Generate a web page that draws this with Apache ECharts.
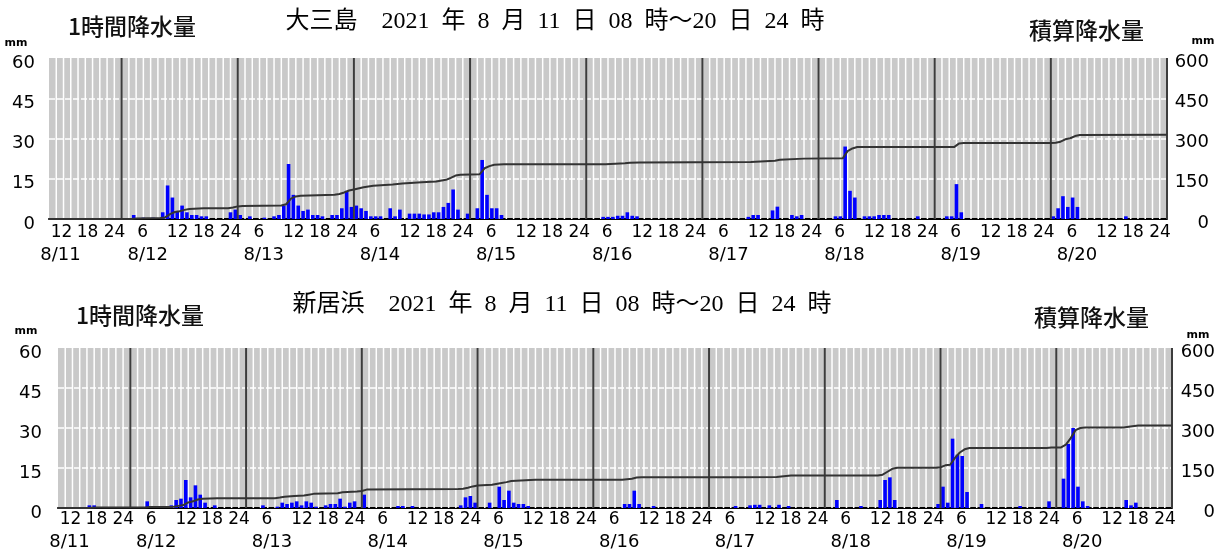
<!DOCTYPE html>
<html><head><meta charset="utf-8">
<script src="https://cdn.jsdelivr.net/npm/echarts@6/dist/echarts.min.js"></script>
<style>html,body{margin:0;padding:0;background:#fff}#c{width:1225px;height:554px}</style>
</head><body><div id="c"></div>
<script>
// ---------- text ----------
const stationNames = ['大三島', '新居浜'];
const periodText = '2021\u2002年\u20028\u2002月\u200211\u2002日\u200208\u2002時～20\u2002日\u200224\u2002時';
const hourlyTitle = '1時間降水量';
const cumulativeTitle = '積算降水量';
const unitText = 'mm';

// ---------- axes (hours counted from 8/11 00:00) ----------
const xStartHour = 9;
const xEndHour = 240;
const hourTicks = [12,18,24,30,36,42,48,54,60,66,72,78,84,90,96,102,108,114,120,126,132,138,144,150,156,162,168,174,180,186,192,198,204,210,216,222,228,234,240];
const dateTicks = [12,30,54,78,102,126,150,174,198,222];
const dateLabels = ['8/11','8/12','8/13','8/14','8/15','8/16','8/17','8/18','8/19','8/20'];
const dayBoundaries = [24,48,72,96,120,144,168,192,216,240];
const hourlyAxisMax = 60, hourlyAxisStep = 15;
const cumulativeAxisMax = 600, cumulativeAxisStep = 150;

// ---------- 大三島 : [hour ending, mm] ----------
const oomishimaHourly = [
 [27,1.5],[29,0.5],[31,0.5],[33,2.5],[34,12.5],[35,8],[36,3],[37,5],[38,2.5],[39,1.5],[40,1.5],[41,1],[42,1],
 [47,2.5],[48,3.5],[49,1.5],[51,1],[54,0.5],[56,1],[57,1.5],[58,5],[59,20.5],[60,9],[61,5],[62,3],[63,3.5],[64,1.5],
 [65,1.5],[66,1],[68,1.5],[69,1.5],[70,4],[71,10.5],[72,4.5],[73,5],[74,4],[75,3],[76,1],[77,1],[78,1],[80,4],[81,1],
 [82,3.5],[84,2],[85,2],[86,2],[87,1.7],[88,1.7],[89,2.5],[90,2.5],[91,4.5],[92,6],[93,11],[94,3.5],[96,2],
 [98,4],[99,22],[100,9],[101,4],[102,4],[103,1.5],
 [124,0.8],[125,0.8],[126,0.8],[127,1.2],[128,1.2],[129,2.5],[130,1.2],[131,1],
 [154,0.8],[155,1.5],[156,1.5],[159,3.2],[160,4.6],[163,1.5],[164,1],[165,1.5],
 [172,1],[173,1],[174,27],[175,10.5],[176,8],[178,1],[179,1],[180,1],[181,1.5],[182,1.5],[183,1.5],[189,1],
 [195,1],[196,1],[197,13],[198,2.5],
 [217,1],[218,4],[219,8.5],[220,4.5],[221,8],[222,4.5],[232,1]
];
const oomishimaCumulative = [
 [9,0],[26,0],[27,2],[32,4],[33,6],[34,18],[35,26],[36,29],[37,34],[38,37],[41,40],[46,40],[47,43],[48,47],[49,48.5],
 [57,50],[58,55],[59,76],[60,84],[61,87],[68,90],[69,93],[70,99],[71,106],[72,110],[74,118],[76,124],[80,129],[82,132],
 [86,137],[89,140],[91,146],[92,153],[93,162],[94,165],[98,167],[99,189],[100,197],[101,202],[103,204],[124,204],
 [126,206],[128,208],[129,210],[131,211],[154,212],[156,214],[159,217],[160,221],[165,225],[173,226],[174,253],
 [175,263],[176,268],[196,268],[197,281],[198,283],[216,283],[217,284],[218,288],[219,297],[220,301],[221,309],
 [222,313],[240,314]
];

// ---------- 新居浜 : [hour ending, mm] ----------
const niihamaHourly = [
 [16,1],[17,1],[28,2.5],[33,1],[34,3],[35,3.5],[36,10.5],[37,4],[38,8.5],[39,5],[40,2],[42,1],
 [52,1],[55,0.5],[56,2],[57,1.5],[58,2],[59,2.5],[60,1],[61,2.5],[62,2],[63,0.5],[65,1],[66,1.5],[67,1.5],[68,3.5],
 [69,0.5],[70,2],[71,2.5],[73,5],[80,0.75],[81,0.75],[83,0.75],
 [93,1],[94,4],[95,4.5],[96,2],[99,2],[101,8],[102,3],[103,6.5],[104,2],[105,1.5],[106,1.5],[107,0.75],
 [127,1.5],[128,1.5],[129,6.5],[130,1.5],[133,0.75],
 [150,0.75],[153,1],[154,1.2],[155,1.2],[157,1],[159,1.2],[161,0.75],
 [171,3],[176,0.75],[180,3],[181,10.5],[182,11.5],[183,3],
 [192,1.5],[193,8],[194,2],[195,26],[196,20],[197,19.5],[198,6],[201,1.5],[209,0.75],
 [215,2.5],[218,11],[219,24],[220,30],[221,8],[222,2.5],[223,0.75],[231,3],[232,1],[233,2]
];
const niihamaCumulative = [
 [9,0],[15,0],[17,2],[27,2],[28,4],[32,4],[33,5],[34,8],[35,11],[36,21],[37,25],[38,32],[39,35],[42,37],[54,37],
 [55,39],[56,42],[58,45],[60,47],[61,50],[62,53],[67,55],[68,59],[71,62],[72,64],[73,69],[92,71],[93,72],[94,76],
 [95,81],[96,84],[99,87],[101,94],[102,97],[103,101],[106,104],[108,106],[126,106],[127,108],[128,110],[129,114],
 [130,115],[150,115],[158,116],[160,120],[161,122],[179,122],[180,125],[181,136],[182,147],[183,151],[191,151],
 [192,153],[193,160],[194,162],[195,188],[196,208],[197,220],[198,225],[214,225],[215,227],[217,227],[218,238],
 [219,262],[220,292],[221,300],[222,302],[230,302],[231,305],[233,309],[240,309]
];

// ---------- styling / layout ----------
const plotBg = '#c9c9c9';
const panels = [
  {name: stationNames[0], hourly: oomishimaHourly, cum: oomishimaCumulative,
   grid: {left: 49, top: 58, width: 1118, height: 161},
   hourMargin: 5, dateMargin: 27, leftMargin: 14, rightMargin: 42,
   titleX: 555, titleY: 22, hTitleX: 68, hTitleY: 26, cTitleX: 1144, cTitleY: 30,
   mmL: [16, 43], mmR: [1203, 41]},
  {name: stationNames[1], hourly: niihamaHourly, cum: niihamaCumulative,
   grid: {left: 58, top: 348, width: 1114, height: 160},
   hourMargin: 3, dateMargin: 25, leftMargin: 16, rightMargin: 43,
   titleX: 562, titleY: 305, hTitleX: 76, hTitleY: 315, cTitleX: 1149, cTitleY: 317,
   mmL: [26, 331], mmR: [1198, 335]}
];

// white 1.5-hour grid (styling)
const gridHours = [];
for (let h = xStartHour + 1.5; h < xEndHour; h += 1.5) gridHours.push(h);

const hourShift = {0: 14, 6: 16, 12: 4, 18: 10};
const numFont = '"DejaVu Sans", sans-serif';
const hourFont = 17;

const option = {animation: false, backgroundColor: '#fff', grid: [], xAxis: [], yAxis: [], series: [], graphic: []};

panels.forEach((p, i) => {
  option.grid.push(Object.assign({show: true, backgroundColor: plotBg, borderWidth: 0}, p.grid));
  const xi = i * 2, yi = i * 2;
  const hr = {};
  [0, 6, 12, 18].forEach(k => { hr['s' + k] = {padding: [0, hourShift[k], 0, 0], fontSize: hourFont, fontFamily: numFont, color: '#000'}; });
  option.xAxis.push({
    type: 'value', gridIndex: i, min: xStartHour, max: xEndHour, position: 'bottom',
    axisLine: {show: true, onZero: false, lineStyle: {color: '#000', width: 2}},
    axisTick: {show: false}, splitLine: {show: false},
    axisLabel: {
      customValues: hourTicks, margin: p.hourMargin, color: '#000',
      fontFamily: numFont, fontSize: hourFont,
      formatter: v => { const r = v % 24; const t = r === 0 ? '24' : String(r); return '{s' + r + '|' + t + '}'; },
      rich: hr
    }
  });
  option.xAxis.push({
    type: 'value', gridIndex: i, min: xStartHour, max: xEndHour, position: 'bottom',
    axisLine: {show: false}, axisTick: {show: false}, splitLine: {show: false},
    axisLabel: {
      customValues: dateTicks, margin: p.dateMargin, color: '#000', fontFamily: numFont, fontSize: 18,
      formatter: v => '{d|' + dateLabels[dateTicks.indexOf(v)] + '}',
      rich: {d: {padding: [0, 6, 0, 0], fontSize: 18, fontFamily: numFont, color: '#000'}}
    }
  });
  option.yAxis.push({
    type: 'value', gridIndex: i, min: 0, max: hourlyAxisMax, interval: hourlyAxisStep, position: 'left',
    axisLine: {show: false}, axisTick: {show: false},
    axisLabel: {margin: p.leftMargin, color: '#000', fontFamily: numFont, fontSize: 18,
      formatter: v => '{a|' + v + '}',
      rich: {a: {padding: [10, 0, 0, 0], fontSize: 18, fontFamily: numFont, color: '#000'}}},
    splitLine: {show: true, showMinLine: false, showMaxLine: false, lineStyle: {color: '#ffffff', width: 1.5, type: [6, 2]}}
  });
  option.yAxis.push({
    type: 'value', gridIndex: i, min: 0, max: cumulativeAxisMax, interval: cumulativeAxisStep, position: 'right',
    axisLine: {show: false}, axisTick: {show: false}, splitLine: {show: false},
    axisLabel: {margin: p.rightMargin, align: 'right', color: '#000', fontFamily: numFont, fontSize: 18,
      formatter: v => '{a|' + v + '}',
      rich: {a: {padding: [8, 0, 0, 0], fontSize: 18, fontFamily: numFont, color: '#000'}}}
  });

  const vline = (color, width) => (params, api) => {
    const x = api.value(0);
    const a = api.coord([x, 0]);
    const b = api.coord([x, hourlyAxisMax]);
    return {type: 'line', shape: {x1: a[0], y1: a[1], x2: b[0], y2: b[1]}, style: {stroke: color, lineWidth: width}};
  };
  option.series.push({
    type: 'custom', xAxisIndex: xi, yAxisIndex: yi, z: 1, silent: true,
    renderItem: vline('#ffffff', 1.5), data: gridHours.map(h => [h, 0])
  });
  option.series.push({
    type: 'bar', xAxisIndex: xi, yAxisIndex: yi, z: 2, barWidth: 3.6,
    itemStyle: {color: '#0000ff'},
    data: p.hourly.map(d => [d[0] - 0.5, d[1]])
  });
  option.series.push({
    type: 'custom', xAxisIndex: xi, yAxisIndex: yi, z: 3, silent: true,
    renderItem: vline('#3c3c3c', 2), data: dayBoundaries.map(h => [h, 0])
  });
  option.series.push({
    type: 'line', xAxisIndex: xi, yAxisIndex: yi + 1, z: 4, symbol: 'none',
    lineStyle: {color: '#333', width: 2}, data: p.cum
  });

  option.graphic.push(
    {type: 'text', x: p.titleX, y: p.titleY, style: {text: p.name + '　' + periodText,
      font: '24px "Liberation Serif", "Noto Sans CJK JP", serif', fill: '#000',
      textAlign: 'center', align: 'center', textVerticalAlign: 'middle', verticalAlign: 'middle'}},
    {type: 'text', x: p.hTitleX, y: p.hTitleY, style: {text: hourlyTitle,
      font: '500 23px "Noto Sans CJK JP", sans-serif', fill: '#111',
      textAlign: 'left', align: 'left', textVerticalAlign: 'middle', verticalAlign: 'middle'}},
    {type: 'text', x: p.cTitleX, y: p.cTitleY, style: {text: cumulativeTitle,
      font: '500 23px "Noto Sans CJK JP", sans-serif', fill: '#111',
      textAlign: 'right', align: 'right', textVerticalAlign: 'middle', verticalAlign: 'middle'}},
    {type: 'text', x: p.mmL[0], y: p.mmL[1], style: {text: unitText,
      font: 'bold 11px "DejaVu Sans", sans-serif', fill: '#000',
      textAlign: 'center', align: 'center', textVerticalAlign: 'middle', verticalAlign: 'middle'}},
    {type: 'text', x: p.mmR[0], y: p.mmR[1], style: {text: unitText,
      font: 'bold 11px "DejaVu Sans", sans-serif', fill: '#000',
      textAlign: 'center', align: 'center', textVerticalAlign: 'middle', verticalAlign: 'middle'}}
  );
});

const chart = echarts.init(document.getElementById('c'), null, {renderer: 'canvas'});
chart.setOption(option);
</script>
</body></html>
